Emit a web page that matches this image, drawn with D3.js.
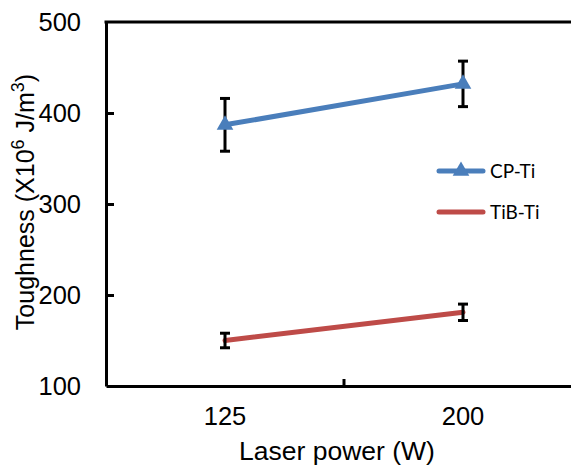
<!DOCTYPE html>
<html><head><meta charset="utf-8">
<script src="https://cdn.jsdelivr.net/npm/d3@7"></script>
<style>body{margin:0;background:#fff}svg{display:block}</style>
</head><body>
<svg id="c" width="571" height="468"></svg>
<script>
const categories = ["125", "200"];
const cpTi = [387, 432];
const cpTiErr = [29, 25];
const tibTi = [150, 181];
const tibTiErr = [8, 9];
const yTicks = [100, 200, 300, 400, 500];
const seriesNames = ["CP-Ti", "TiB-Ti"];
const colors = ["#4a7ebb", "#be4b48"];

(function () {
const svg = d3.select("#c");
const pLeft = 106, pRight = 582, pTop = 22, pBottom = 386;
const x = d3.scaleBand().domain(categories).range([pLeft, pRight]);
const y = d3.scaleLinear().domain([100, 500]).range([pBottom, pTop]);
const font = "'Liberation Sans', Arial, sans-serif";

// axes
const yAxis = svg.append("g").attr("transform", `translate(${pLeft},0)`)
  .call(d3.axisLeft(y).tickValues(yTicks).tickSize(-8).tickPadding(25).tickSizeOuter(0));
yAxis.select(".domain").attr("stroke", "#000").attr("stroke-width", 3);
yAxis.selectAll(".tick line").attr("stroke", "#000").attr("stroke-width", 3)
  .filter(d => d === 100 || d === 500).remove();
yAxis.selectAll(".tick text").attr("font-family", font).attr("font-size", 25.5).attr("fill", "#000");

const xAxis = svg.append("g").attr("transform", `translate(0,${pBottom})`)
  .call(d3.axisBottom(x).tickSize(0).tickPadding(21).tickSizeOuter(0));
xAxis.select(".domain").attr("stroke", "#000").attr("stroke-width", 3);
xAxis.selectAll(".tick text").attr("font-family", font).attr("font-size", 25.5).attr("fill", "#000");
// tick between categories
svg.append("line")
  .attr("x1", x(categories[1])).attr("x2", x(categories[1]))
  .attr("y1", pBottom).attr("y2", pBottom - 7)
  .attr("stroke", "#000").attr("stroke-width", 3);
// top border
svg.append("line").attr("x1", pLeft - 1.5).attr("x2", 571).attr("y1", y(500)).attr("y2", y(500))
  .attr("stroke", "#000").attr("stroke-width", 3);

const cx = d => x(d) + x.bandwidth() / 2;

function drawSeries(vals, errs, color, marker) {
  const line = d3.line().x((d, i) => cx(categories[i])).y(d => y(d));
  svg.append("path").datum(vals).attr("d", line)
    .attr("fill", "none").attr("stroke", color).attr("stroke-width", 5).attr("stroke-linecap", "round");
  vals.forEach((v, i) => {
    const X = cx(categories[i]);
    const g = svg.append("g").attr("stroke", "#000").attr("stroke-width", 3);
    g.append("line").attr("x1", X).attr("x2", X).attr("y1", y(v + errs[i])).attr("y2", y(v - errs[i]));
    g.append("line").attr("x1", X - 5).attr("x2", X + 5).attr("y1", y(v + errs[i])).attr("y2", y(v + errs[i]));
    g.append("line").attr("x1", X - 5).attr("x2", X + 5).attr("y1", y(v - errs[i])).attr("y2", y(v - errs[i]));
    if (marker) {
      svg.append("path").attr("d", d3.symbol(d3.symbolTriangle, 120)())
        .attr("transform", `translate(${X},${y(v)})`).attr("fill", color);
    }
  });
}
drawSeries(cpTi, cpTiErr, colors[0], true);
drawSeries(tibTi, tibTiErr, colors[1], false);

// legend
const legY = [171, 212];
seriesNames.forEach((n, i) => {
  svg.append("line").attr("x1", 439).attr("x2", 483).attr("y1", legY[i]).attr("y2", legY[i])
    .attr("stroke", colors[i]).attr("stroke-width", 5).attr("stroke-linecap", "round");
  if (i === 0) svg.append("path").attr("d", d3.symbol(d3.symbolTriangle, 120)())
    .attr("transform", `translate(461,${legY[i]})`).attr("fill", colors[i]);
  svg.append("text").attr("x", 490).attr("y", legY[i] + 7).text(n)
    .attr("font-family", "Lato, 'Open Sans', sans-serif").attr("font-size", 19).attr("fill", "#000");
});

// axis titles
svg.append("text").attr("x", 337).attr("y", 460).attr("text-anchor", "middle")
  .attr("font-family", font).attr("font-size", 26.5).attr("fill", "#000").text("Laser power (W)");
const yt = svg.append("text").attr("transform", "translate(34,202) rotate(-90)").attr("text-anchor", "middle")
  .attr("font-family", font).attr("font-size", 25).attr("fill", "#000");
yt.append("tspan").text("Toughness (X10");
yt.append("tspan").attr("dy", -10).attr("font-size", 18).text("6");
yt.append("tspan").attr("dy", 10).text(" J/m");
yt.append("tspan").attr("dy", -10).attr("font-size", 18).text("3");
yt.append("tspan").attr("dy", 10).text(")");
})();
</script>
</body></html>
